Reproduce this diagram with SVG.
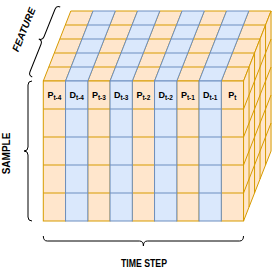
<svg xmlns="http://www.w3.org/2000/svg" xmlns:xlink="http://www.w3.org/1999/xlink" width="273" height="273" viewBox="0 0 273 273">
<style>
.o{fill:#ffe6cc;stroke:#d79b00;stroke-width:1}
.b{fill:#dae8fc;stroke:#6c8ebf;stroke-width:1}
.lbl{font-family:"Liberation Sans",Arial,sans-serif;font-weight:bold;font-size:9px;fill:#000;text-anchor:middle}
.lbl tspan{font-size:6.5px}
.ax{font-family:"Liberation Sans",Arial,sans-serif;font-weight:bold;font-size:10px;fill:#000;text-anchor:middle}
.br{fill:none;stroke:#000;stroke-width:1}
</style>
<defs>
<g id="col">
<polygon points="0,81 22.25,81 49.75,11 27.5,11"/>
<path d="M5.5,67h22.25M11,53h22.25M16.5,39h22.25M22,25h22.25"/>
<rect x="0" y="81" width="22.25" height="140"/>
<path d="M0,109h22.25M0,137h22.25M0,165h22.25M0,193h22.25"/>
</g>
</defs>
<g id="col-p-t-4"><use xlink:href="#col" x="43.3" class="o"/><text class="lbl" x="54.4" y="98">P<tspan dy="2">t-4</tspan></text></g>
<g id="col-p-t-3"><use xlink:href="#col" x="87.8" class="o"/><text class="lbl" x="98.9" y="98">P<tspan dy="2">t-3</tspan></text></g>
<g id="col-p-t-2"><use xlink:href="#col" x="132.3" class="o"/><text class="lbl" x="143.4" y="98">P<tspan dy="2">t-2</tspan></text></g>
<g id="col-p-t-1"><use xlink:href="#col" x="176.8" class="o"/><text class="lbl" x="187.9" y="98">P<tspan dy="2">t-1</tspan></text></g>
<g id="col-p-t"><use xlink:href="#col" x="221.3" class="o"/><text class="lbl" x="232.4" y="98">P<tspan dy="2">t</tspan></text></g>
<g id="col-d-t-4"><use xlink:href="#col" x="65.55" class="b"/><text class="lbl" x="76.7" y="98">D<tspan dy="2">t-4</tspan></text></g>
<g id="col-d-t-3"><use xlink:href="#col" x="110.05" class="b"/><text class="lbl" x="121.2" y="98">D<tspan dy="2">t-3</tspan></text></g>
<g id="col-d-t-2"><use xlink:href="#col" x="154.55" class="b"/><text class="lbl" x="165.7" y="98">D<tspan dy="2">t-2</tspan></text></g>
<g id="col-d-t-1"><use xlink:href="#col" x="199.05" class="b"/><text class="lbl" x="210.2" y="98">D<tspan dy="2">t-1</tspan></text></g>
<g id="right-face" class="o">
<polygon points="243.55,81 271.05,11 271.05,151 243.55,221"/>
<path d="M249.05,67V207M254.55,53V193M260.05,39V179M265.55,25V165M243.55,109L271.05,39M243.55,137L271.05,67M243.55,165L271.05,95M243.55,193L271.05,123"/>
</g>
<g id="braces">
<path class="br" d="M32,81Q28,81 28,85V147Q28,151 24,151Q28,151 28,155V217Q28,221 32,221"/>
<path class="br" d="M43.3,236Q43.3,241 47.3,241H139.4Q143.4,241 143.4,246Q143.4,241 147.4,241H239.5Q243.5,241 243.5,236"/>
<path class="br" transform="translate(42.5,40.5) rotate(21.8)" d="M4,-37.7Q0,-37.7 0,-33.7V-4Q0,0 -4,0Q0,0 0,4V33.7Q0,37.7 4,37.7"/>
</g>
<g id="labels">
<text class="ax" x="9.5" y="153.5" transform="rotate(-90 9.5 153.5)">SAMPLE</text>
<text class="ax" x="27" y="31" font-style="italic" transform="rotate(-68.2 27 31)">FEATURE</text>
<text class="ax" x="144" y="267" textLength="46" lengthAdjust="spacingAndGlyphs">TIME STEP</text>
</g>
</svg>
